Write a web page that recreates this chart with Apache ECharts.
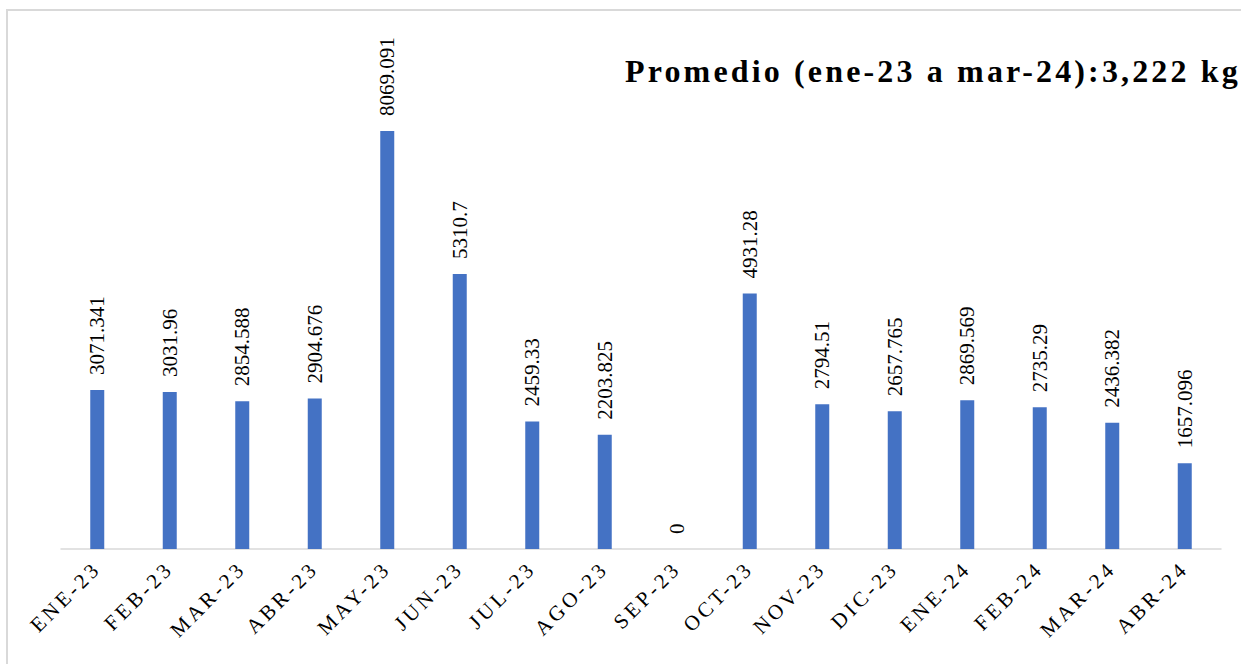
<!DOCTYPE html>
<html>
<head>
<meta charset="utf-8">
<style>
  html, body { margin: 0; padding: 0; background: #fff; }
  #chart { width: 1241px; height: 664px; }
</style>
<script src="https://cdn.jsdelivr.net/npm/echarts@6/dist/echarts.min.js"></script>
</head>
<body>
<div id="chart"></div>
<script>
const categories = ['ENE-23','FEB-23','MAR-23','ABR-23','MAY-23','JUN-23','JUL-23','AGO-23','SEP-23','OCT-23','NOV-23','DIC-23','ENE-24','FEB-24','MAR-24','ABR-24'];
const values = [3071.341, 3031.96, 2854.588, 2904.676, 8069.091, 5310.7, 2459.33, 2203.825, 0, 4931.28, 2794.51, 2657.765, 2869.569, 2735.29, 2436.382, 1657.096];
const titleText = 'Promedio (ene-23 a mar-24):3,222 kg';

const serif = 'Liberation Serif';
const chart = echarts.init(document.getElementById('chart'), null, { renderer: 'svg' });
chart.setOption({
  animation: false,
  backgroundColor: '#ffffff',
  grid: { left: 61, right: 20, top: 31, bottom: 115, containLabel: false },
  graphic: [
    {
      type: 'rect',
      shape: { x: 7, y: 10, width: 1400, height: 800 },
      style: { fill: 'none', stroke: '#d9d9d9', lineWidth: 2 },
      silent: true
    },
    {
      type: 'text',
      x: 625, y: 71,
      style: {
        text: titleText,
        font: 'bold 32px ' + serif,
        fill: '#000',
        textAlign: 'left',
        textVerticalAlign: 'middle'
      }
    }
  ],
  xAxis: {
    type: 'category',
    data: categories,
    axisLine: { show: true, lineStyle: { color: '#d9d9d9', width: 1.5 } },
    axisTick: { show: false },
    axisLabel: {
      interval: 0,
      rotate: 45,
      margin: 16,
      fontFamily: serif,
      fontSize: 21,
      color: '#000'
    }
  },
  yAxis: {
    type: 'value',
    min: 0,
    max: 10000,
    show: false,
    splitLine: { show: false }
  },
  series: [{
    type: 'bar',
    data: values,
    barWidth: 14,
    itemStyle: { color: '#4472C4' },
    label: {
      show: true,
      position: 'top',
      distance: 15,
      rotate: 90,
      align: 'left',
      verticalAlign: 'middle',
      fontFamily: serif,
      fontSize: 21,
      color: '#000',
      formatter: function (p) { return String(p.value); }
    }
  }]
});

function applySpacing() {
  const texts = document.querySelectorAll('#chart text');
  texts.forEach(function (t) {
    const s = t.textContent;
    if (s === titleText) {
      t.setAttribute('letter-spacing', '3.15');
    } else if (categories.indexOf(s) >= 0) {
      t.setAttribute('letter-spacing', '3.5');
    }
  });
}
applySpacing();
</script>
</body>
</html>
